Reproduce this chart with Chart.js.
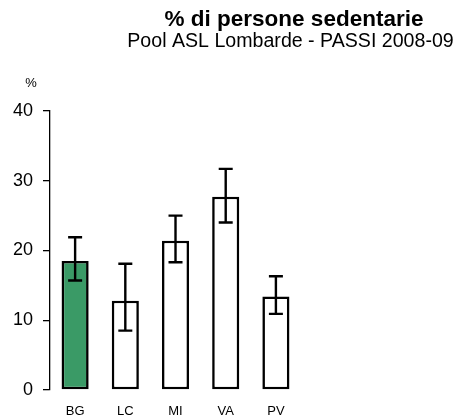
<!DOCTYPE html>
<html>
<head>
<meta charset="utf-8">
<script src="https://cdn.jsdelivr.net/npm/chart.js@4/dist/chart.umd.min.js"></script>
<style>
  html, body { margin: 0; padding: 0; background: #fff; }
  #wrap { width: 467px; height: 419px; position: relative; }
</style>
</head>
<body>
<div id="wrap"><canvas id="c"></canvas></div>
<script>
// ASL areas and prevalence of sedentary people (%), with 95% CI bounds
const areas = ['BG', 'LC', 'MI', 'VA', 'PV'];
const prevalence = [18.5, 12.8, 21.4, 27.7, 13.4];
const ciLow = [15.7, 8.5, 18.3, 24.0, 10.9];
const ciHigh = [21.9, 18.1, 25.0, 31.7, 16.3];
const yTicks = [0, 10, 20, 30, 40];
const barColors = ['#3a9a66', '#ffffff', '#ffffff', '#ffffff', '#ffffff'];

const FONT = '"Liberation Sans", Arial, Helvetica, sans-serif';

// Confidence interval whiskers drawn through the chart scales
const errorBars = {
  id: 'errorBars',
  afterDatasetsDraw(chart) {
    const ctx = chart.ctx;
    const meta = chart.getDatasetMeta(0);
    const y = chart.scales.y;
    ctx.save();
    ctx.strokeStyle = '#000';
    ctx.lineWidth = 2.4;
    ctx.lineCap = 'butt';
    meta.data.forEach((bar, i) => {
      const x = bar.x;
      const yTop = y.getPixelForValue(ciHigh[i]);
      const yBot = y.getPixelForValue(ciLow[i]);
      const half = 7;
      ctx.beginPath();
      ctx.moveTo(x, yTop); ctx.lineTo(x, yBot);
      ctx.moveTo(x - half, yTop); ctx.lineTo(x + half, yTop);
      ctx.moveTo(x - half, yBot); ctx.lineTo(x + half, yBot);
      ctx.stroke();
    });
    ctx.restore();
  }
};

// Heading, subheading and unit label
const headings = {
  id: 'headings',
  afterDraw(chart) {
    const ctx = chart.ctx;
    ctx.save();
    ctx.fillStyle = '#000';
    ctx.textBaseline = 'alphabetic';
    ctx.textAlign = 'center';
    ctx.font = 'bold 22.5px ' + FONT;
    ctx.fillText('% di persone sedentarie', 294, 26);
    ctx.font = '19.6px ' + FONT;
    ctx.fillText('Pool ASL Lombarde - PASSI 2008-09', 290.5, 47);
    ctx.font = '13px ' + FONT;
    ctx.fillText('%', 31, 87);
    ctx.restore();
  }
};

new Chart(document.getElementById('c'), {
  type: 'bar',
  data: {
    labels: areas,
    datasets: [{
      data: prevalence,
      backgroundColor: barColors,
      borderColor: '#000',
      borderWidth: 2.6,
      borderSkipped: false,
      barPercentage: 0.54,
      categoryPercentage: 1.0
    }]
  },
  options: {
    responsive: true,
    maintainAspectRatio: false,
    animation: false,
    devicePixelRatio: 1,
    layout: { padding: { top: 111, left: 3, right: 166, bottom: -14.5 } },
    plugins: {
      legend: { display: false },
      tooltip: { enabled: false },
      title: { display: false }
    },
    scales: {
      x: {
        grid: { display: false, drawTicks: false },
        border: { display: false },
        ticks: {
          color: '#000',
          font: { family: FONT, size: 13 },
          padding: 14
        }
      },
      y: {
        min: 0,
        max: 40,
        afterBuildTicks(scale) { scale.ticks = yTicks.map(v => ({ value: v })); },
        grid: {
          drawOnChartArea: false,
          drawTicks: true,
          tickLength: 7,
          color: '#000',
          lineWidth: 1.3
        },
        border: { display: true, color: '#000', width: 1.3 },
        ticks: {
          color: '#000',
          font: { family: FONT, size: 18 },
          padding: 10
        }
      }
    }
  },
  plugins: [errorBars, headings]
});
</script>
</body>
</html>
